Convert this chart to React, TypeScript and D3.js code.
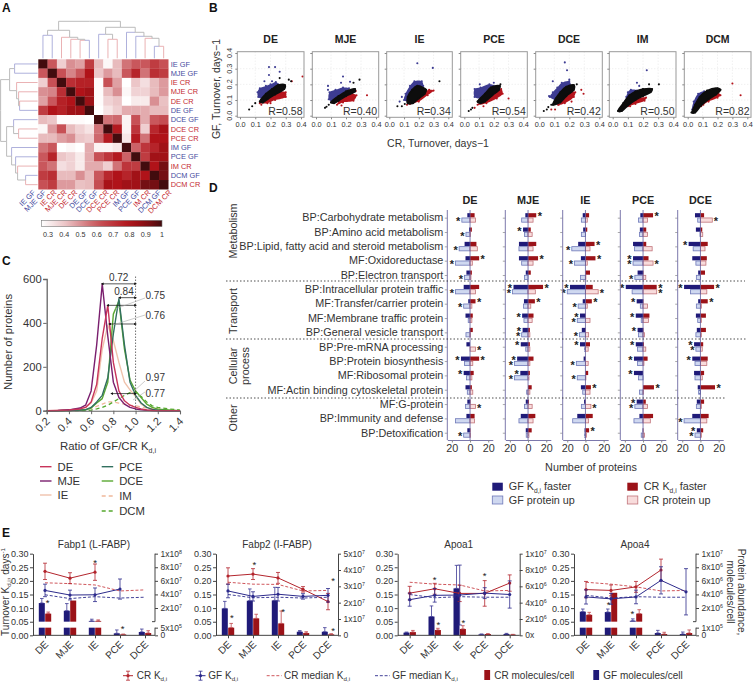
import * as React from 'react'
import { useEffect, useRef } from 'react'
import * as d3 from 'd3'

const FONT = '"Liberation Sans", Arial, sans-serif'
const INK = '#333'
const GF_DARK = '#1f1a78'
const CR_DARK = '#9b1218'
const GF_LINE = '#2d2b8c'
const CR_LINE = '#b3252d'

// ---- panel A
const heatLabels = ['IE GF', 'MJE GF', 'IE CR', 'MJE CR', 'DE CR', 'DE GF', 'DCE GF', 'DCE CR', 'PCE CR', 'IM GF', 'PCE GF', 'IM CR', 'DCM GF', 'DCM CR']
const heatValues = [
    [1, .6, .38, .5, .47, .68, .42, .28, .42, .55, .6, .6, .68, .62],
    [.6, 1, .62, .52, .6, .8, .4, .48, .42, .6, .75, .55, .72, .68],
    [.38, .62, 1, .72, .76, .76, .27, .62, .47, .25, .4, .34, .42, .48],
    [.5, .52, .72, 1, .8, .84, .27, .42, .5, .28, .37, .37, .42, .48],
    [.47, .6, .76, .8, 1, .85, .27, .37, .4, .25, .31, .31, .5, .41],
    [.68, .8, .76, .84, .85, 1, .25, .33, .38, .45, .45, .45, .42, .42],
    [.42, .4, .27, .27, .27, .25, 1, .55, .57, .29, .62, .45, .6, .63],
    [.28, .48, .62, .42, .37, .33, .55, 1, .78, .29, .7, .38, .74, .82],
    [.42, .42, .47, .5, .4, .38, .57, .78, 1, .32, .78, .55, .8, .8],
    [.55, .6, .25, .28, .25, .45, .29, .29, .32, 1, .58, .7, .75, .84],
    [.6, .75, .4, .37, .31, .45, .62, .7, .78, .58, 1, .68, .84, .84],
    [.6, .55, .34, .37, .31, .45, .45, .38, .55, .7, .68, 1, .8, .93],
    [.68, .72, .42, .42, .5, .42, .6, .74, .8, .75, .84, .8, 1, .93],
    [.62, .68, .48, .48, .41, .42, .63, .82, .8, .84, .84, .93, .93, 1],
]
const heatTicks = [.3, .4, .5, .6, .7, .8, .9, 1]
// [height, left, right], a number is a leaf index
const dendro: any = [37,
    [28, [23, 0, 1], [21, 2, [19, 3, [18, 4, 5]]]],
    [31, [24, 6, [19, 7, 8]], [26, 9, [22, 10, [20, 11, [12, 12, 13]]]]],
]

// ---- panel B
const scatterNames = ['DE', 'MJE', 'IE', 'PCE', 'DCE', 'IM', 'DCM']
const scatterR = ['R=0.58', 'R=0.40', 'R=0.34', 'R=0.54', 'R=0.42', 'R=0.50', 'R=0.82']
const scatterTicks = [0, .1, .2, .3, .4]
const blueHulls = [
    [[.12, .12], [.115, .15], [.13, .175], [.17, .19], [.2, .2], [.235, .215], [.25, .2], [.2, .15], [.15, .11]],
    [[.085, .105], [.09, .15], [.13, .165], [.18, .18], [.22, .175], [.2, .14], [.15, .115], [.11, .09]],
    [[.1, .1], [.11, .14], [.14, .19], [.17, .22], [.22, .22], [.23, .19], [.19, .14], [.14, .09]],
    [[.07, .12], [.07, .17], [.11, .18], [.17, .2], [.2, .19], [.17, .14], [.12, .11]],
    [[.07, .12], [.09, .15], [.12, .18], [.15, .21], [.2, .22], [.21, .19], [.17, .14], [.12, .1]],
    [[.09, .105], [.1, .15], [.12, .165], [.16, .16], [.14, .125], [.11, .1]],
    [[.03, .04], [.04, .09], [.07, .14], [.11, .155], [.12, .13], [.08, .09], [.05, .05]],
]
const redHulls = [
    [[.13, .08], [.18, .08], [.23, .1], [.3, .12], [.3, .15], [.25, .15], [.2, .12], [.16, .1]],
    [[.14, .07], [.18, .085], [.25, .095], [.27, .13], [.24, .14], [.19, .12], [.15, .09]],
    [[.14, .075], [.2, .09], [.26, .13], [.3, .16], [.27, .165], [.22, .14], [.17, .1]],
    [[.09, .07], [.15, .08], [.22, .11], [.26, .14], [.25, .17], [.2, .15], [.14, .11]],
    [[.13, .07], [.17, .08], [.23, .12], [.24, .15], [.2, .15], [.16, .11]],
    [[.1, .06], [.15, .075], [.21, .095], [.22, .115], [.17, .11], [.12, .08]],
    [[.09, .06], [.14, .09], [.2, .115], [.22, .13], [.2, .15], [.14, .11]],
]
const blackHulls = [
    [[.13, .09], [.17, .14], [.21, .17], [.25, .195], [.295, .195], [.29, .17], [.23, .135], [.18, .105], [.15, .085]],
    [[.1, .085], [.15, .125], [.2, .155], [.26, .17], [.26, .155], [.2, .125], [.15, .095], [.12, .08]],
    [[.125, .08], [.125, .12], [.155, .165], [.19, .19], [.25, .165], [.24, .14], [.2, .11], [.16, .08]],
    [[.09, .09], [.14, .14], [.18, .18], [.24, .19], [.235, .165], [.19, .13], [.14, .09], [.11, .08]],
    [[.09, .07], [.11, .11], [.14, .15], [.18, .185], [.23, .195], [.23, .165], [.18, .125], [.14, .085]],
    [[.035, .03], [.07, .08], [.11, .13], [.15, .155], [.2, .17], [.26, .17], [.25, .15], [.2, .125], [.15, .1], [.1, .065], [.06, .03]],
    [[.03, .02], [.05, .07], [.08, .12], [.13, .16], [.2, .175], [.22, .165], [.19, .135], [.14, .105], [.09, .065], [.05, .02]],
]
const blueOut = [
    [[.19, .31], [.23, .31], [.19, .26], [.26, .28], [.16, .22], [.21, .22]],
    [[.18, .25], [.167, .21], [.227, .217], [.08, .19], [.08, .165]],
    [[.19, .335], [.295, .305], [.07, .09], [.085, .12]],
    [[.105, .2], [.2, .21]],
    [[.17, .34], [.185, .29], [.09, .22], [.2, .23], [.065, .125]],
    [[.225, .29], [.16, .21], [.175, .19], [.09, .12], [.08, .09]],
    [],
]
const redOut = [
    [[.41, .25], [.34, .22], [.2, .08], [.14, .07]],
    [[.34, .13], [.17, .065], [.265, .157]],
    [[.14, .08], [.12, .07]],
    [[.3, .11], [.25, .14], [.23, .14], [.07, .05], [.13, .06]],
    [[.08, .04], [.105, .04], [.125, .07], [.28, .165], [.295, .14], [.215, .09]],
    [[.115, .06]],
    [[.3, .205], [.355, .13], [.1, .08], [.105, .07], [.215, .165], [.215, .13]],
]
const blackOut = [
    [[.06, .04], [.08, .06], [.1, .08], [.26, .24], [.32, .23], [.335, .22]],
    [[.06, .05], [.07, .057], [.085, .07], [.29, .23], [.25, .21]],
    [[.055, .06], [.085, .06], [.105, .075], [.34, .22]],
    [[.03, .03], [.045, .04], [.055, .05], [.245, .2]],
    [[.03, .03], [.05, .04], [.06, .055], [.08, .07], [.25, .2]],
    [[.305, .2], [.24, .2]],
    [[.025, .02]],
]

// ---- panel C
const ratioBins = [.2, .3, .4, .5, .55, .6, .65, .7, .75, .8, .85, .9, .95, 1, 1.05, 1.1, 1.15, 1.2, 1.3, 1.4]
const countDE = [0, 1, 3, 8, 15, 40, 120, 330, 480, 220, 90, 45, 25, 15, 8, 3, 1, 0, 0, 0]
const countMJE = [0, 1, 4, 12, 25, 90, 300, 578, 340, 130, 60, 30, 15, 8, 4, 2, 1, 0, 0, 0]
const countIE = [0, 1, 3, 8, 15, 35, 90, 280, 390, 320, 220, 130, 95, 65, 30, 15, 5, 2, 0, 0]
const countPCE = [0, 0, 1, 3, 5, 15, 40, 70, 150, 350, 510, 300, 130, 70, 35, 15, 6, 2, 0, 0]
const countDCE = [0, 0, 1, 2, 4, 12, 35, 55, 130, 440, 500, 280, 140, 90, 60, 30, 15, 7, 3, 0]
const countIM = [0, 0, 1, 3, 6, 10, 20, 30, 40, 40, 35, 30, 25, 22, 18, 12, 10, 8, 3, 1]
const countDCM = [0, 0, 0, 0, 0, 3, 8, 15, 25, 40, 55, 70, 82, 85, 65, 40, 22, 15, 8, 3]
const ratioTicks = [.2, .4, .6, .8, 1, 1.2, 1.4]
const countTicks = [0, 200, 400, 600]
const ratioArrows = [[.7, 578], [.855, 515], [.75, 480], [.765, 395], [.785, 78]]

// ---- panel D
const rowLabels = [
    'BP:Carbohydrate metabolism', 'BP:Amino acid metabolism', 'BP:Lipid, fatty acid and steroid metabolism', 'MF:Oxidoreductase', 'BP:Electron transport',
    'BP:Intracellular protein traffic', 'MF:Transfer/carrier protein', 'MF:Membrane traffic protein', 'BP:General vesicle transport',
    'BP:Pre-mRNA processing', 'BP:Protein biosynthesis', 'MF:Ribosomal protein', 'MF:Actin binding cytoskeletal protein',
    'MF:G-protein', 'BP:Immunity and defense', 'BP:Detoxification',
]
const columnNames = ['DE', 'MJE', 'IE', 'PCE', 'DCE']
// each row: GF Kd,i faster, GF protein up, CR Kd,i faster, CR protein up
const barsDE = [[3, 9, 5, 6], [1, 4.5, 2, .5], [6, 12, 7, 8], [5, 16, 10, 2.5], [4, 6, 2, 1], [7, 16, 10, 6], [2, 7, 6, 2], [5, 2, 3, 2], [.5, 4.5, 3, .5], [4, 0, 0, 6], [10, 6, 10, 3], [7, 4, 4, 2], [5, 3, 2, 3], [3, 5, .5, 6], [4, 16, 5, 5], [3, 7, .5, .5]]
const barsMJE = [[3, 7, 9, 5.5], [5.5, 4, 3, 4.5], [10, 10, 9, 5.5], [10, 7, 11, 5.5], [2.5, 4, 3, 0], [16, 17, 16.5, 8], [4.5, 5, 7.5, 3], [6.5, 4.5, 6, 4.5], [6, 7, 2, 2], [8, 2.5, 2, 2], [12, 15, 6, 2], [8.5, 15, 2, 1], [0, 1.5, 4, 2], [2.5, 4, 1, 4.5], [8, 10, 8, 5.5], [2.5, 2, 4, 1]]
const barsIE = [[3, 4.5, 4, 2], [2.5, 4.5, 2, 0], [8, 15, 10, 5], [5, 12, 11, 2], [0, 5.5, 5, .5], [17, 20, 8, 14], [3, 8, 7, 2], [6, 9, .5, 5], [4, 6.5, .5, 3.5], [6, 1, 5, 3], [2, 10, .5, 3], [0, 9, 3, .5], [5, 3, 6, 5], [1.5, 4.5, .5, 6], [9, 14, 8, 3.5], [1, 1, 4, 1]]
const barsPCE = [[3, 5, 11, 5], [3.5, 4, 3.5, 5], [11, 9.5, 3.5, 10], [11, 11, 6, 11], [6, 9, .5, 3], [19, 12, 15, 15], [7, 3, .5, 5], [8, 2, 7, 6], [6, 5, .5, 1.5], [8, 6, 1, 3], [10, 6, 5, 1], [10, 5, 0, 0], [0, 4, 12, .5], [7, 9, 3, 5], [4, 10, 11, 8], [.5, 2, .5, 1.5]]
const barsDCE = [[6, 3, 4, 13], [5, .5, 2, 2.5], [13, 8, 8, 5], [9, 5, 7, 6], [2.5, 4.5, 5, 0], [18, 11, 15, 7], [2.5, 4.5, 8, 1], [5, 3, 6, 1], [4, 5, 6, 1], [7, 5, 3, 2], [9, 6, 8, 7], [7, 6, 4, 2], [3, 2, 16, 0], [4, 4.5, 4, 1], [9, 18, 9, 7], [4, 6, 3, 1]]
const barColumns = [barsDE, barsMJE, barsIE, barsPCE, barsDCE]
// [row, series]: series as in the bar rows above
const starsDE = [[0, 1], [1, 1], [2, 1], [3, 1], [3, 2], [4, 1], [5, 1], [6, 1], [6, 2], [9, 3], [10, 0], [10, 2], [11, 0], [13, 3], [15, 1]]
const starsMJE = [[0, 2], [1, 0], [3, 2], [5, 0], [5, 2], [5, 1], [6, 2], [7, 0], [8, 0], [8, 1], [9, 0], [10, 0], [10, 1], [11, 0], [11, 1]]
const starsIE = [[2, 2], [2, 1], [3, 2], [3, 1], [5, 0], [5, 1], [5, 3], [6, 2], [6, 1], [7, 0], [7, 1], [8, 1], [9, 0], [10, 1], [11, 1], [12, 2], [13, 3], [15, 2]]
const starsPCE = [[0, 2], [3, 0], [3, 1], [3, 3], [4, 1], [5, 0], [5, 2], [5, 3], [6, 0], [7, 0], [8, 0], [9, 0], [10, 0], [11, 0], [12, 2], [13, 0], [13, 1]]
const starsDCE = [[0, 3], [2, 0], [5, 0], [5, 2], [6, 2], [9, 0], [9, 1], [10, 0], [12, 2], [14, 1], [15, 0], [15, 1]]
const starColumns = [starsDE, starsMJE, starsIE, starsPCE, starsDCE]
const proteinTicks = [-20, 0, 20]

// ---- panel E
const eCats = ['DE', 'MJE', 'IE', 'PCE', 'DCE']
const turnoverTicks = [0, .05, .1, .15, .2, .25, .3]

const f1CrK = [.235, .21, .232, null, null]
const f1CrErr = [.03, .02, .03, 0, 0]
const f1GfK = [.165, .148, .149, .17, null]
const f1GfErr = [.023, .018, .025, .037, 0]
const f1CrMed = [.193, .19, .185, .163, .167]
const f1GfMed = [.149, .135, .142, .137, .14]
const f1GfMol = [2.73e7, 1.6e7, 1e6, 1.3e5, 2.2e5]
const f1GfMolTop = [3.4e7, 2.65e7, 3.5e6, 3.5e5, 4.1e5]
const f1CrMol = [1.17e7, 3.1e7, 1e6, 6e4, 1.5e5]
const f1CrMolTop = [1.4e7, 3.1e7, 2.5e6, 8e4, 3e5]
const f1Stars = [[.1, .123], [2, .272], [3.1, .03]]

const f2CrK = [.218, .225, .211, .169, .124]
const f2CrErr = [.03, .02, .02, .01, .03]
const f2GfK = [.163, .143, .151, .143, .147]
const f2GfErr = [.025, .017, .025, .01, .025]
const f2CrMed = [.195, .188, .187, .163, .165]
const f2GfMed = [.15, .138, .14, .137, .14]
const f2GfMol = [1.65e7, 2.12e7, 2.14e7, 2.2e6, 2.2e6]
const f2GfMolTop = [2.08e7, 2.84e7, 2.94e7, 2.9e6, 4.7e6]
const f2CrMol = [4.7e6, 1.04e7, 7.3e6, 1.4e6, 6e5]
const f2CrMolTop = [7.3e6, 1.29e7, 1.49e7, 2.2e6, 1e6]
const f2Stars = [[.15, .07], [1.05, .265], [2.2, .09], [4.2, .205], [4.2, .022]]

const a1CrK = [.155, .171, .154, .154, .192]
const a1CrErr = [.025, .02, .03, .047, .03]
const a1GfK = [.131, .147, .148, .155, .15]
const a1GfErr = [.024, .025, .11, .02, .05]
const a1CrMed = [.195, .188, .185, .163, .165]
const a1GfMed = [.15, .138, .142, .14, .14]
const a1GfMol = [3.3e5, 2.3e6, 5.75e6, 1.2e5, 1.6e5]
const a1GfMolTop = [4e5, 3.6e6, 8.57e6, 1.6e5, 2.4e5]
const a1CrMol = [4e5, 6.5e5, 7.8e5, 1.6e5, 8e4]
const a1CrMolTop = [6e5, 8.6e5, 1.18e6, 2e5, 1.2e5]
const a1Stars = [[1, .207], [1.15, .045], [2.15, .05], [3, .222]]

const a4CrK = [.168, .165, .178, .24, null]
const a4CrErr = [.03, .02, .02, .04, 0]
const a4GfK = [.141, .134, .141, .202, .16]
const a4GfErr = [.026, .02, .025, .05, .085]
const a4CrMed = [.195, .188, .178, .163, .165]
const a4GfMed = [.147, .137, .142, .14, .14]
const a4GfMol = [1.46e6, 1.4e6, 1.2e5, 3e4, 1.7e4]
const a4GfMolTop = [1.85e6, 1.85e6, 4e5, 6.5e4, 4.3e4]
const a4CrMol = [1e6, 4.24e6, 1.17e6, 1.7e4, 3e4]
const a4CrMolTop = [1.36e6, 4.24e6, 1.75e6, 4e4, 7e4]
const a4Stars = [[.9, .118], [1.85, .085]]

const abundancePanels = [
    { title: 'Fabp1 (L-FABP)', axis: 33, crK: f1CrK, crErr: f1CrErr, gfK: f1GfK, gfErr: f1GfErr, crMed: f1CrMed, gfMed: f1GfMed, gfMol: f1GfMol, gfTop: f1GfMolTop, crMol: f1CrMol, crTop: f1CrMolTop, stars: f1Stars, upperTicks: [2e7, 4e7, 6e7, 8e7, 1e8], lowerTicks: [0, 5e5], max: 1e8, zeroLabel: '0' },
    { title: 'Fabp2 (I-FABP)', axis: 216, crK: f2CrK, crErr: f2CrErr, gfK: f2GfK, gfErr: f2GfErr, crMed: f2CrMed, gfMed: f2GfMed, gfMol: f2GfMol, gfTop: f2GfMolTop, crMol: f2CrMol, crTop: f2CrMolTop, stars: f2Stars, upperTicks: [0, 1e7, 2e7, 3e7, 4e7, 5e7], lowerTicks: null, max: 5e7, zeroLabel: '0' },
    { title: 'Apoa1', axis: 397.7, crK: a1CrK, crErr: a1CrErr, gfK: a1GfK, gfErr: a1GfErr, crMed: a1CrMed, gfMed: a1GfMed, gfMol: a1GfMol, gfTop: a1GfMolTop, crMol: a1CrMol, crTop: a1CrMolTop, stars: a1Stars, upperTicks: [0, 2e6, 4e6, 6e6, 8e6, 1e7], lowerTicks: null, max: 1e7, zeroLabel: '0x' },
    { title: 'Apoa4', axis: 574, crK: a4CrK, crErr: a4CrErr, gfK: a4GfK, gfErr: a4GfErr, crMed: a4CrMed, gfMed: a4GfMed, gfMol: a4GfMol, gfTop: a4GfMolTop, crMol: a4CrMol, crTop: a4CrMolTop, stars: a4Stars, upperTicks: [2e6, 4e6, 6e6, 8e6, 1e7], lowerTicks: [0, 1e5], max: 1e7, zeroLabel: '0' },
]

type Part = [string, ('sub' | 'sup')?]

function addText(g: any, str: string | Part[], x: number, y: number, o: any = {}) {
    const t = g.append('text')
        .attr('x', x).attr('y', y)
        .attr('font-size', o.size || 10)
        .attr('font-weight', o.weight || null)
        .attr('text-anchor', o.anchor || 'start')
        .attr('fill', o.fill || INK)
    if (o.rotate !== undefined)
        t.attr('transform', `rotate(${o.rotate},${x},${y})`)
    if (typeof str === 'string') {
        t.text(str)
        return t
    }
    let shift = 0
    const size = o.size || 10
    for (const [s, kind] of str) {
        const target = kind === 'sub' ? size * .22 : kind === 'sup' ? -size * .35 : 0
        t.append('tspan')
            .attr('dy', target - shift)
            .attr('font-size', kind ? size * .62 : size)
            .text(s)
        shift = target
    }
    return t
}

function styleAxis(sel: any, color = '#444') {
    sel.selectAll('path').attr('stroke', color)
    sel.selectAll('line').attr('stroke', color)
    sel.selectAll('text').attr('fill', INK).attr('font-family', FONT)
}

function drawHeatmap(svg: any) {
    const g = svg.append('g')
    const x = d3.scaleBand<number>().domain(d3.range(14)).range([38.3, 168.3])
    const y = d3.scaleBand<number>().domain(d3.range(14)).range([59.3, 189.3])
    const color = d3.scaleLinear<string>()
        .domain([.26, .4, .5, .6, .8, .9, 1])
        .range(['#ffffff', '#ecc6c8', '#d98f93', '#c9575c', '#b01319', '#8a1015', '#420c0e'])

    heatValues.forEach((row, r) => row.forEach((v, c) => {
        g.append('rect').attr('x', x(c)).attr('y', y(r))
            .attr('width', x.bandwidth() + .2).attr('height', y.bandwidth() + .2)
            .attr('fill', color(v))
    }))

    // the rotated labels fan out a little wider than the cells
    const labelX = d3.scaleLinear().domain([0, 13]).range([36, 172])
    const tint = (name: string) => name.endsWith('GF') ? '#454a9e' : '#c42a30'
    heatLabels.forEach((name, i) => {
        addText(g, name, 170.7, y(i)! + y.bandwidth() / 2 + 2.6, { size: 7.4, fill: tint(name) })
        addText(g, name, labelX(i), 193, { size: 7.4, fill: tint(name), anchor: 'end', rotate: -45 })
    })

    // dendrograms on top and on the left
    const legColor = (n: any) => typeof n === 'number' ? (heatLabels[n].endsWith('GF') ? '#a6a8d8' : '#e8a9ab') : '#b4b4b4'
    const walk = (node: any, band: any, mk: (p: number, h: number) => [number, number], dg: any): { p: number, h: number } => {
        if (typeof node === 'number')
            return { p: band(node)! + band.bandwidth() / 2, h: 0 }
        const a = walk(node[1], band, mk, dg)
        const b = walk(node[2], band, mk, dg)
        const h = node[0]
        const mid = (a.p + b.p) / 2
        const lineGen = d3.line().x(d => mk(d[0], d[1])[0]).y(d => mk(d[0], d[1])[1])
        dg.append('path').attr('fill', 'none').attr('stroke', legColor(node[1])).attr('stroke-width', .9)
            .attr('d', lineGen([[a.p, a.h], [a.p, h], [mid, h]]))
        dg.append('path').attr('fill', 'none').attr('stroke', legColor(node[2])).attr('stroke-width', .9)
            .attr('d', lineGen([[b.p, b.h], [b.p, h], [mid, h]]))
        return { p: mid, h }
    }
    walk(dendro, x, (p, h) => [p, 58.3 - h], g.append('g'))
    walk(dendro, y, (p, h) => [37.6 - h, p], g.append('g'))

    // colour key
    const keyX = d3.scaleLinear().domain([.3, 1]).range([48, 162])
    const gradId = 'heatKey'
    const grad = svg.append('defs').append('linearGradient').attr('id', gradId)
    d3.range(0, 1.001, .1).forEach(t => {
        grad.append('stop').attr('offset', t).attr('stop-color', color(.257 + t * .743))
    })
    g.append('rect').attr('x', 41.5).attr('y', 220.3).attr('width', 120.5).attr('height', 6.3)
        .attr('fill', `url(#${gradId})`).attr('stroke', '#777').attr('stroke-width', .6)
    heatTicks.forEach(v => {
        addText(g, v === 1 ? '1' : v.toFixed(1), keyX(v), 237, { size: 7.2, anchor: 'middle' })
    })
}

const scatterBoxes = [
    { l: 237.3, r: 304, x0: 240, x4: 301 },
    { l: 312.3, r: 378.7, x0: 316, x4: 376 },
    { l: 386.7, r: 452.3, x0: 389.3, x4: 448.3 },
    { l: 460.7, r: 527.3, x0: 464.3, x4: 523.3 },
    { l: 535.7, r: 602.3, x0: 539.3, x4: 599.3 },
    { l: 609.3, r: 676, x0: 612.7, x4: 673.3 },
    { l: 684.3, r: 751, x0: 687.7, x4: 747.3 },
]

function drawScatters(svg: any) {
    const top = 51.7, bottom = 117.3
    const y = d3.scaleLinear().domain([0, .4]).range([115.7, 53])
    scatterNames.forEach((name, i) => {
        const box = scatterBoxes[i]
        const g = svg.append('g')
        const x = d3.scaleLinear().domain([0, .4]).range([box.x0, box.x4])

        scatterTicks.slice(1, 4).forEach(v => {
            g.append('line').attr('x1', x(v)).attr('x2', x(v)).attr('y1', top).attr('y2', bottom)
                .attr('stroke', '#dcdcdc').attr('stroke-width', .6).attr('stroke-dasharray', '1,2')
            g.append('line').attr('y1', y(v)).attr('y2', y(v)).attr('x1', box.l).attr('x2', box.r)
                .attr('stroke', '#dcdcdc').attr('stroke-width', .6).attr('stroke-dasharray', '1,2')
        })

        const outline = d3.line<number[]>().x(d => x(d[0])).y(d => y(d[1])).curve(d3.curveCatmullRomClosed)
        const groups: [number[][], number[][], string, number][] = [
            [blueHulls[i], blueOut[i], '#3d3c92', 0],
            [redHulls[i], redOut[i], '#b5141c', 0],
            [blackHulls[i], blackOut[i], '#0d0d0d', 1.6],
        ]
        for (const [hull, extra, fill, thick] of groups) {
            g.append('path').attr('d', outline(hull)).attr('fill', fill)
                .attr('stroke', thick ? fill : 'none').attr('stroke-width', thick).attr('stroke-linejoin', 'round')
            g.selectAll(null).data(hull.concat(extra)).enter().append('circle')
                .attr('cx', (d: number[]) => x(d[0])).attr('cy', (d: number[]) => y(d[1]))
                .attr('r', 1.05).attr('fill', fill)
        }

        g.append('rect').attr('x', box.l).attr('y', top).attr('width', box.r - box.l).attr('height', bottom - top)
            .attr('fill', 'none').attr('stroke', '#999').attr('stroke-width', 1)

        // x ticks, y ticks
        const axX = g.append('g').attr('transform', `translate(0,${bottom})`)
            .call(d3.axisBottom(x).tickValues(scatterTicks).tickFormat(d3.format('.1f')).tickSize(2).tickPadding(2))
        axX.select('.domain').remove()
        styleAxis(axX, '#888')
        axX.selectAll('text').attr('font-size', 7.3)
        axX.selectAll('text').attr('dy', '0.75em')

        const axY = g.append('g').attr('transform', `translate(${box.l},0)`)
            .call(d3.axisLeft(y).tickValues(scatterTicks).tickFormat(() => '').tickSize(2))
        axY.select('.domain').remove()
        styleAxis(axY, '#888')
        if (i === 0) {
            scatterTicks.forEach(v => addText(g, v.toFixed(1), box.l - 5, y(v), { size: 7.3, anchor: 'middle', rotate: -90 }))
        }

        addText(g, name, (box.l + box.r) / 2, 43, { size: 10.5, weight: 'bold', anchor: 'middle', fill: '#222' })
        addText(g, scatterR[i], box.r - 1.5, 114.5, { size: 10.5, anchor: 'end' })
    })
    addText(svg, 'GF, Turnover, days\u22121', 220, 89, { size: 10.5, anchor: 'middle', rotate: -90 })
    addText(svg, 'CR, Turnover, days\u22121', 438, 147, { size: 10.5, anchor: 'middle' })
}

function drawRatios(svg: any) {
    const g = svg.append('g')
    const x = d3.scaleLinear().domain([.2, 1.4]).range([46.7, 180])
    const y = d3.scaleLinear().domain([0, 600]).range([410.7, 279])

    const defs = svg.append('defs')
    const mk = (id: string, path: string) => defs.append('marker').attr('id', id)
        .attr('viewBox', '0 0 6 6').attr('refX', 3).attr('refY', 3).attr('markerWidth', 4).attr('markerHeight', 4).attr('orient', 'auto')
        .append('path').attr('d', path).attr('fill', '#111')
    mk('arrowEnd', 'M0,0L6,3L0,6Z')
    mk('arrowStart', 'M6,0L0,3L6,6Z')

    const curves: [string, number[], string, string?][] = [
        ['IE', countIE, '#efc2ac'],
        ['IM', countIM, '#f0b89a', '4,3'],
        ['DCM', countDCM, '#55a82e', '4,3'],
        ['DCE', countDCE, '#5aa832'],
        ['PCE', countPCE, '#32705f'],
        ['MJE', countMJE, '#7a1f6e'],
        ['DE', countDE, '#c8345a'],
    ]
    const line = d3.line<number>().x((_, i) => x(ratioBins[i])).y(d => y(d))
    for (const [, values, color, dash] of curves) {
        g.append('path').datum(values).attr('fill', 'none').attr('stroke', color)
            .attr('stroke-width', dash ? 1.3 : 1.4).attr('stroke-dasharray', dash || null)
            .attr('stroke-linejoin', 'round').attr('d', line)
    }

    // reference line and shift arrows
    g.append('line').attr('x1', x(1)).attr('x2', x(1)).attr('y1', 276.5).attr('y2', y(0))
        .attr('stroke', '#333').attr('stroke-width', .7).attr('stroke-dasharray', '1.5,1.5')
    ratioArrows.forEach(([start, count]) => {
        g.append('line').attr('x1', x(start)).attr('x2', x(1)).attr('y1', y(count)).attr('y2', y(count))
            .attr('stroke', '#111').attr('stroke-width', .7)
            .attr('marker-start', 'url(#arrowStart)').attr('marker-end', 'url(#arrowEnd)')
    })
    const leaders = [[115, 309, 145, 298], [113, 325, 145, 315], [133, 392, 145, 381], [133, 400, 145, 392]]
    leaders.forEach(([a, b, c, d]) => g.append('line').attr('x1', a).attr('y1', b).attr('x2', c).attr('y2', d)
        .attr('stroke', '#aaa').attr('stroke-width', .6))
    addText(g, '0.72', 118.7, 281, { size: 10, anchor: 'middle' })
    addText(g, '0.84', 124, 295, { size: 10, anchor: 'middle' })
    addText(g, '0.75', 145.5, 299, { size: 10 })
    addText(g, '0.76', 145.5, 319, { size: 10 })
    addText(g, '0.97', 145.5, 381, { size: 10 })
    addText(g, '0.77', 145.5, 397, { size: 10 })

    const axY = g.append('g').attr('transform', `translate(${x(.2)},0)`)
        .call(d3.axisLeft(y).tickValues(countTicks).tickSize(3.5).tickPadding(1.5))
    styleAxis(axY, '#666')
    axY.select('.domain').attr('stroke-width', 1.3)
    axY.selectAll('text').attr('font-size', 11.2)

    const axX = g.append('g').attr('transform', `translate(0,${y(0)})`)
        .call(d3.axisBottom(x).tickValues(ratioTicks).tickFormat(() => '').tickSize(3.5))
    styleAxis(axX, '#666')
    axX.select('.domain').attr('stroke-width', 1.1)
    ratioTicks.forEach(v => addText(g, v.toFixed(1), x(v) + 4, 422, { size: 11, anchor: 'end', rotate: -45 }))

    addText(g, 'Number of proteins', 12, 342, { size: 11.3, anchor: 'middle', rotate: -90 })
    addText(g, [['Ratio of GF/CR K'], ['d,i', 'sub']], 108, 450, { size: 11.4, anchor: 'middle' })

    const legendRows: [string, string, number, number, string?][] = [
        ['DE', '#c8345a', 40, 466.7], ['MJE', '#7a1f6e', 40, 481], ['IE', '#efc2ac', 40, 495],
        ['PCE', '#32705f', 101.7, 466.7], ['DCE', '#5aa832', 101.7, 481],
        ['IM', '#f0b89a', 101.7, 496, '4,3'], ['DCM', '#55a82e', 101.7, 511, '4,3'],
    ]
    for (const [name, color, lx, ly, dash] of legendRows) {
        g.append('line').attr('x1', lx).attr('x2', lx + 11.5).attr('y1', ly).attr('y2', ly)
            .attr('stroke', color).attr('stroke-width', 1.4).attr('stroke-dasharray', dash || null)
        addText(g, name, lx + 17.5, ly + 4, { size: 11.3 })
    }
}

const columnAxes = [447.3, 505.3, 562.7, 620.3, 677.7]

function drawGroups(svg: any) {
    const g = svg.append('g')
    const y = d3.scaleBand<string>().domain(rowLabels).range([210.5, 439.9])
    const center = (name: string) => y(name)! + y.bandwidth() / 2
    const axisTop = 210, axisBottom = 440
    const fills = [GF_DARK, '#cfd8f0', CR_DARK, '#f8dcdc']
    const strokes = ['none', '#6e78b8', 'none', '#c0737a']

    rowLabels.forEach(name => addText(g, name, 443.3, center(name) + 3.8, { size: 10.8, anchor: 'end' }))

    columnNames.forEach((col, c) => {
        const left = columnAxes[c]
        const x = d3.scaleLinear().domain([-25, 25]).range([left, left + 45.5])
        const cg = g.append('g')
        barColumns[c].forEach((vals, r) => {
            const cy = center(rowLabels[r])
            vals.forEach((v, s) => {
                if (v === 0) return
                const isGF = s < 2
                const isLow = s === 1 || s === 3
                cg.append('rect')
                    .attr('x', isGF ? x(-v) : x(0)).attr('width', x(v) - x(0))
                    .attr('y', isLow ? cy + .3 : cy - 4.5).attr('height', 4.2)
                    .attr('fill', fills[s]).attr('stroke', strokes[s]).attr('stroke-width', .8)
            })
        })
        cg.append('line').attr('x1', x(0)).attr('x2', x(0)).attr('y1', axisTop).attr('y2', axisBottom)
            .attr('stroke', '#5f5b9c').attr('stroke-width', .8)

        starColumns[c].forEach(([r, s]) => {
            const cy = center(rowLabels[r])
            const v = barColumns[c][r][s]
            const px = s < 2 ? x(-v) - 3.6 : x(v) + 3.6
            const py = (s === 1 || s === 3 ? cy + 2.5 : cy - 2.5) + 5
            addText(cg, '*', px, py, { size: 11, anchor: 'middle', fill: '#222', weight: 'bold' })
        })

        const axY = cg.append('g').attr('transform', `translate(${left},0)`)
            .call(d3.axisLeft(d3.scalePoint<string>().domain(rowLabels).range([center(rowLabels[0]), center(rowLabels[15])])).tickFormat(() => '').tickSize(2.5).tickSizeOuter(0))
        styleAxis(axY, '#aaa')
        axY.select('.domain').remove()
        cg.append('line').attr('x1', left).attr('x2', left).attr('y1', axisTop).attr('y2', axisBottom)
            .attr('stroke', '#7c78ac').attr('stroke-width', 1)

        const axX = cg.append('g').attr('transform', `translate(0,${axisBottom})`)
            .call(d3.axisBottom(x).tickValues(proteinTicks).tickFormat(d => String(Math.abs(+d))).tickSize(2.5).tickSizeOuter(0).tickPadding(2))
        styleAxis(axX, '#888')
        axX.select('.domain').attr('stroke', '#7c78ac')
        axX.selectAll('text').attr('font-size', 10.8)

        addText(cg, col, x(0), 204, { size: 10.8, weight: 'bold', anchor: 'middle', fill: '#222' })
    })

    // group labels and separators
    addText(g, 'Metabolism', 237, 231, { size: 10.8, anchor: 'middle', rotate: -90 })
    addText(g, 'Transport', 237, 311, { size: 10.8, anchor: 'middle', rotate: -90 })
    addText(g, 'Cellular', 237, 366, { size: 10.8, anchor: 'middle', rotate: -90 })
    addText(g, 'process', 249, 366, { size: 10.8, anchor: 'middle', rotate: -90 })
    addText(g, 'Other', 237, 418, { size: 10.8, anchor: 'middle', rotate: -90 })
    const seps = [[281, 745], [339, 747], [398, 726]]
    seps.forEach(([sy, end]) => g.append('line').attr('x1', 226).attr('x2', end).attr('y1', sy).attr('y2', sy)
        .attr('stroke', '#222').attr('stroke-width', .8).attr('stroke-dasharray', '1.5,2'))

    addText(g, 'Number of proteins', 591, 471, { size: 10.8, anchor: 'middle' })

    const legend: [number, number, Part[], number][] = [
        [492.3, 482.7, [['GF K'], ['d,i', 'sub'], [' faster']], 0],
        [492.3, 496, [['GF protein up']], 1],
        [627.3, 482.7, [['CR K'], ['d,i', 'sub'], [' faster']], 2],
        [627.3, 496, [['CR protein up']], 3],
    ]
    for (const [lx, ly, label, s] of legend) {
        g.append('rect').attr('x', lx).attr('y', ly).attr('width', 10.5).attr('height', 8)
            .attr('fill', fills[s]).attr('stroke', strokes[s]).attr('stroke-width', .8)
        addText(g, label, lx + 16.5, ly + 7.6, { size: 10.8 })
    }
}

function drawAbundance(svg: any) {
    const top = 553.67, bottom = 635.33, segBottom = 621.67, lowerTop = 627.67
    const yK = d3.scaleLinear().domain([0, .3]).range([bottom, top])

    for (const p of abundancePanels) {
        const g = svg.append('g')
        const axis = p.axis, right = axis + 122
        const x = d3.scalePoint<string>().domain(eCats).range([axis + 12, axis + 112])

        // molecule axis, broken when lowerTicks is set
        const broken = !!p.lowerTicks
        const lowerMax = broken ? p.lowerTicks![1] : 0
        const yUp = broken
            ? d3.scaleLinear().domain([p.upperTicks[0], p.max]).range([bottom - 27.33, top])
            : d3.scaleLinear().domain([0, p.max]).range([bottom, top])
        const yLow = broken ? d3.scaleLinear().domain([0, lowerMax]).range([bottom, lowerTop]) : yUp
        const yMol = (v: number) => (broken && v <= lowerMax) ? yLow(v) : yUp(v)

        const bar = (cx: number, w: number, v: number, fill: string) => {
            if (!broken || v <= lowerMax) {
                g.append('rect').attr('x', cx).attr('width', w).attr('y', yMol(v)).attr('height', bottom - yMol(v)).attr('fill', fill)
                return
            }
            g.append('rect').attr('x', cx).attr('width', w).attr('y', lowerTop).attr('height', bottom - lowerTop).attr('fill', fill)
            const tip = Math.min(yUp(v), segBottom - .6)
            g.append('rect').attr('x', cx).attr('width', w).attr('y', tip).attr('height', segBottom - tip).attr('fill', fill)
        }
        const whisker = (cx: number, a: number, b: number, color: string, cap: number) => {
            g.append('line').attr('x1', cx).attr('x2', cx).attr('y1', a).attr('y2', b).attr('stroke', color).attr('stroke-width', .8)
            for (const yy of [a, b])
                g.append('line').attr('x1', cx - cap).attr('x2', cx + cap).attr('y1', yy).attr('y2', yy).attr('stroke', color).attr('stroke-width', .8)
        }

        eCats.forEach((cat, i) => {
            const cx = x(cat)!
            bar(cx - 6.2, 6, p.gfMol[i], GF_DARK)
            bar(cx + .2, 6, p.crMol[i], CR_DARK)
            if (p.gfTop[i] > p.gfMol[i]) whisker(cx - 3.2, yMol(p.gfMol[i]), yMol(p.gfTop[i]), '#3d3a96', 1.8)
            if (p.crTop[i] > p.crMol[i]) whisker(cx + 3.2, yMol(p.crMol[i]), yMol(p.crTop[i]), '#c0474d', 1.8)
        })

        // kinetics
        const lineK = d3.line<number | null>()
            .defined(d => d !== null)
            .x((_, i) => x(eCats[i])!)
            .y(d => yK(d as number))
        g.append('path').datum(p.crMed).attr('fill', 'none').attr('stroke', '#c9444a').attr('stroke-width', .9).attr('stroke-dasharray', '3,1.8').attr('d', lineK)
        g.append('path').datum(p.gfMed).attr('fill', 'none').attr('stroke', GF_LINE).attr('stroke-width', .9).attr('stroke-dasharray', '3,1.8').attr('d', lineK)
        const series: [(number | null)[], number[], string][] = [[p.crK, p.crErr, CR_LINE], [p.gfK, p.gfErr, GF_LINE]]
        for (const [values, errs, color] of series) {
            g.append('path').datum(values).attr('fill', 'none').attr('stroke', color).attr('stroke-width', 1).attr('d', lineK)
            values.forEach((v, i) => {
                if (v === null) return
                const cx = x(eCats[i])!
                whisker(cx, yK(v - errs[i]), yK(v + errs[i]), color, 2)
                g.append('circle').attr('cx', cx).attr('cy', yK(v)).attr('r', 1.6).attr('fill', color)
            })
        }

        p.stars.forEach(([c, v]) => {
            addText(g, '*', x('DE')! + c * 25, yK(v) + 4.5, { size: 9.5, anchor: 'middle', fill: '#222' })
        })

        // axes
        const axL = g.append('g').attr('transform', `translate(${axis},0)`)
            .call(d3.axisLeft(yK).tickValues(turnoverTicks).tickFormat(d3.format('.2f')).tickSize(3).tickSizeOuter(0).tickPadding(1.5))
        styleAxis(axL)
        axL.selectAll('text').attr('font-size', 9)

        const axB = g.append('g').attr('transform', `translate(0,${bottom})`)
            .call(d3.axisBottom(x).tickFormat(() => '').tickSize(3))
        styleAxis(axB)
        axB.select('.domain').attr('d', `M${axis},0H${right}`)
        eCats.forEach(cat => addText(g, cat, x(cat)! + 4, 645, { size: 10, anchor: 'end', rotate: -45 }))

        const rightTicks = (sel: any, scale: any, ticks: number[]) => {
            const ax = sel.append('g').attr('transform', `translate(${right},0)`)
                .call(d3.axisRight(scale).tickValues(ticks).tickFormat(() => '').tickSize(3).tickSizeOuter(0))
            styleAxis(ax)
            ticks.forEach(v => {
                const label: Part[] = v === 0
                    ? [[p.zeroLabel]]
                    : [[`${v.toExponential().split('e')[0]}x10`], [v.toExponential().split('e+')[1], 'sup']]
                addText(sel, label, right + 5.5, scale(v) + 3, { size: 8.5 })
            })
            return ax
        }
        if (broken) {
            const low = rightTicks(g, yLow, p.lowerTicks!)
            low.select('.domain').attr('d', `M0,${lowerTop}V${bottom}`)
            const up = rightTicks(g, yUp, p.upperTicks)
            up.select('.domain').attr('d', `M-3,${segBottom}H0V${top}`)
        } else {
            rightTicks(g, yUp, p.upperTicks)
        }

        addText(g, p.title, (axis + right) / 2, 548, { size: 10, anchor: 'middle' })
    }

    addText(svg, [['Turnover K'], ['d,i', 'sub'], [', days'], ['-1', 'sup']], 8.5, 592, { size: 10, anchor: 'middle', rotate: -90 })
    addText(svg, 'Protein abundance,', 738, 592, { size: 10, anchor: 'middle', rotate: 90 })
    addText(svg, 'molecules/cell', 727, 592, { size: 10, anchor: 'middle', rotate: 90 })

    // legend row
    const ly = 675.7
    const g = svg.append('g')
    const errKey = (cx: number, color: string) => {
        g.append('line').attr('x1', cx - 5).attr('x2', cx + 5).attr('y1', ly).attr('y2', ly).attr('stroke', color).attr('stroke-width', 1)
        g.append('line').attr('x1', cx).attr('x2', cx).attr('y1', ly - 4.5).attr('y2', ly + 4.5).attr('stroke', color).attr('stroke-width', .8)
        for (const d of [-4.5, 4.5])
            g.append('line').attr('x1', cx - 2).attr('x2', cx + 2).attr('y1', ly + d).attr('y2', ly + d).attr('stroke', color).attr('stroke-width', .8)
        g.append('circle').attr('cx', cx).attr('cy', ly).attr('r', 1.6).attr('fill', color)
    }
    errKey(128, CR_LINE)
    addText(g, [['CR K'], ['d,i', 'sub']], 136.7, ly + 3.5, { size: 10 })
    errKey(200.5, GF_LINE)
    addText(g, [['GF K'], ['d,i', 'sub']], 208.3, ly + 3.5, { size: 10 })
    g.append('line').attr('x1', 266.7).attr('x2', 281.7).attr('y1', ly).attr('y2', ly).attr('stroke', '#c9444a').attr('stroke-width', .9).attr('stroke-dasharray', '3,1.8')
    addText(g, [['CR median K'], ['d,i', 'sub']], 284, ly + 3.5, { size: 10 })
    g.append('line').attr('x1', 375).attr('x2', 390).attr('y1', ly).attr('y2', ly).attr('stroke', GF_LINE).attr('stroke-width', .9).attr('stroke-dasharray', '3,1.8')
    addText(g, [['GF median K'], ['d,i', 'sub']], 392.3, ly + 3.5, { size: 10 })
    g.append('rect').attr('x', 484.3).attr('y', 670).attr('width', 5.8).attr('height', 10).attr('fill', CR_DARK)
    addText(g, 'CR molecules/cell', 494.3, ly + 3.5, { size: 10 })
    g.append('rect').attr('x', 593.3).attr('y', 670).attr('width', 5.8).attr('height', 10).attr('fill', GF_DARK)
    addText(g, 'GF molecules/cell', 603.3, ly + 3.5, { size: 10 })
}

export default function App() {
    const ref = useRef<SVGSVGElement | null>(null)

    useEffect(() => {
        if (!ref.current)
            return
        const svg = d3.select(ref.current)
        svg.selectAll('*').remove()
        svg.attr('font-family', FONT)

        drawHeatmap(svg)
        drawScatters(svg)
        drawRatios(svg)
        drawGroups(svg)
        drawAbundance(svg)

        const letters: [string, number, number][] = [['A', 2, 12], ['B', 209, 12], ['C', 2, 265], ['D', 209, 192], ['E', 2, 537]]
        for (const [s, lx, ly] of letters)
            addText(svg, s, lx, ly, { size: 12, weight: 'bold', fill: '#111' })
    }, [])

    return (
        <svg
            ref={ref}
            width={756}
            height={685}
            style={{ position: 'absolute', left: 0, top: 0, display: 'block', background: '#fff' }}
        />
    )
}
